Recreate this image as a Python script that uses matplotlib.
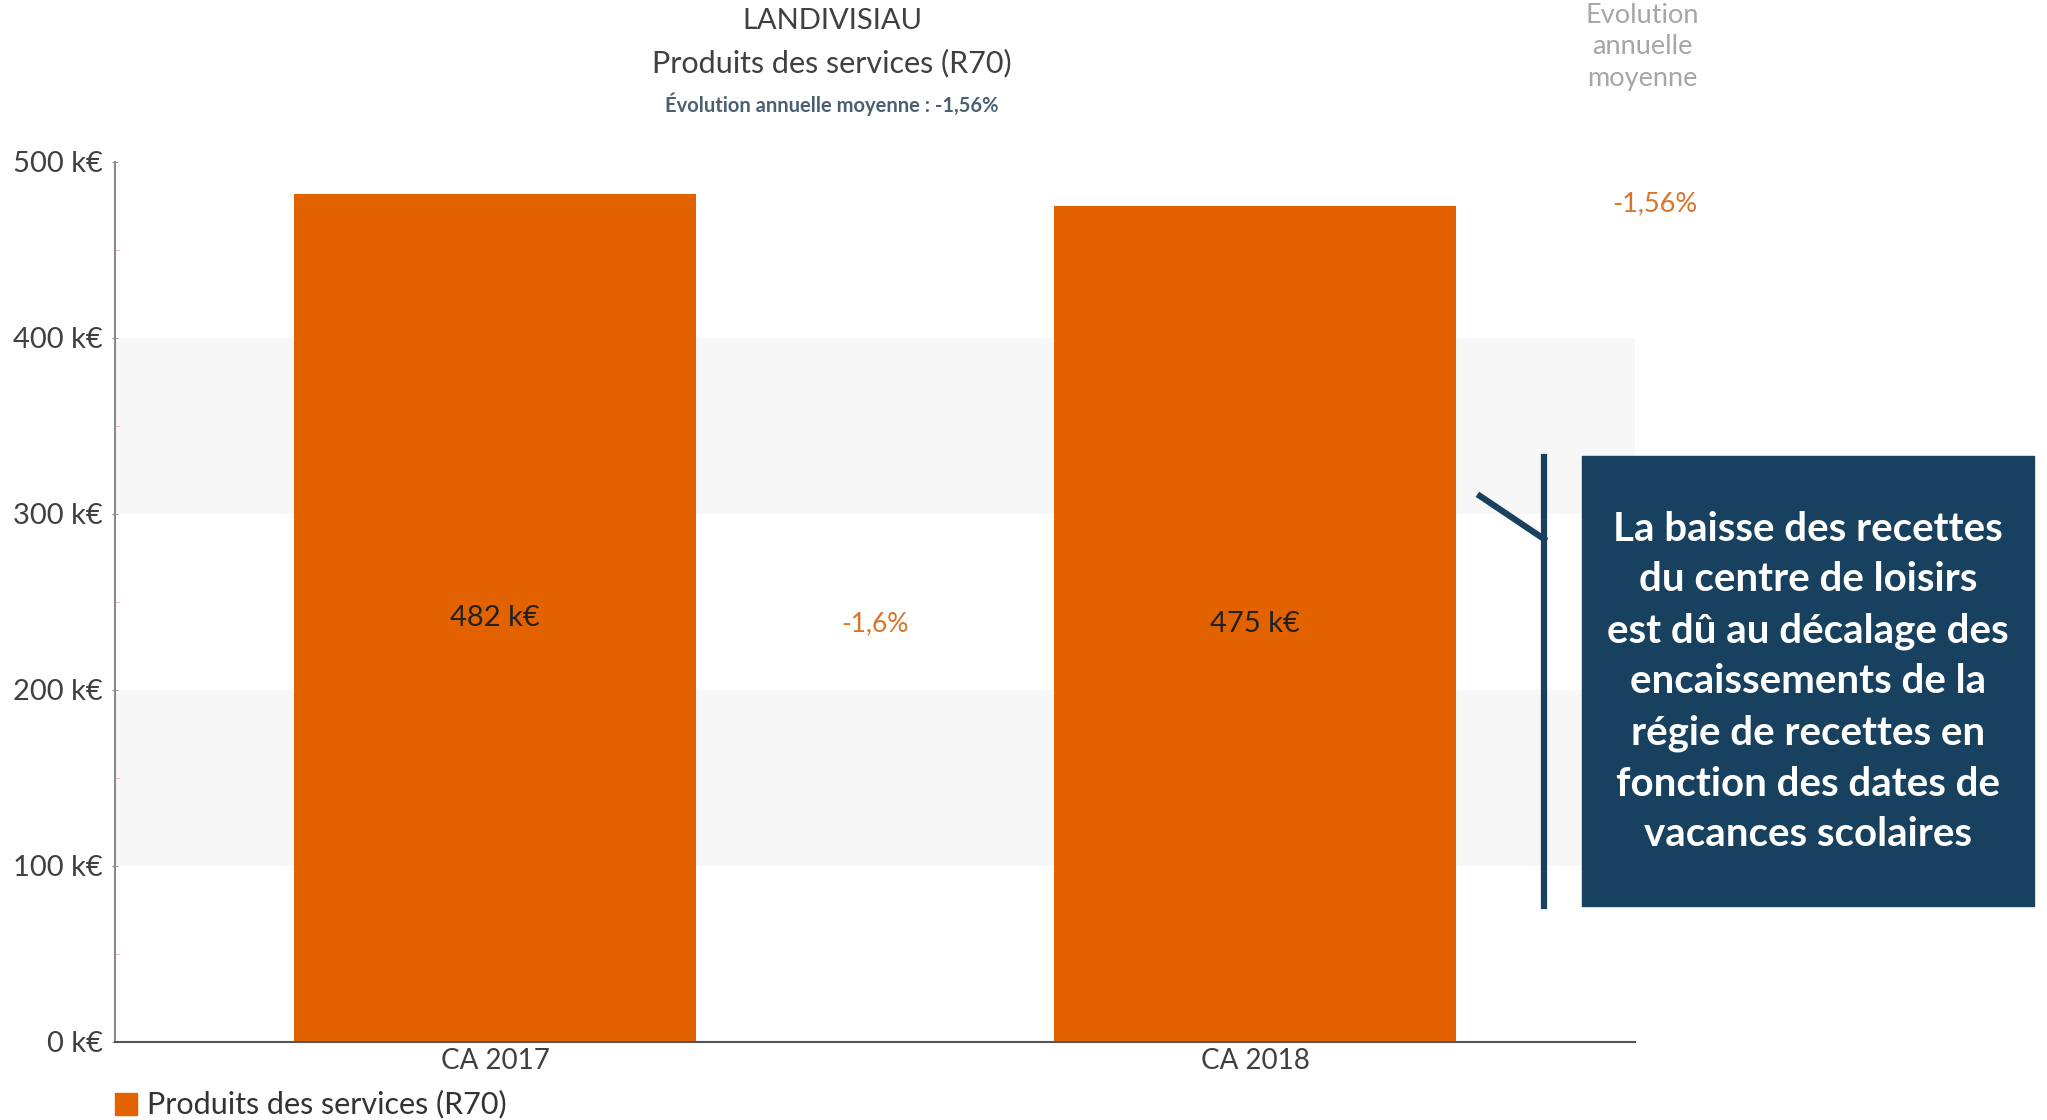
import matplotlib.pyplot as plt
from matplotlib.patches import Rectangle
from matplotlib.lines import Line2D

categories = ["CA 2017", "CA 2018"]
values = [482, 475]  # k€
bar_labels = ["482 k€", "475 k€"]
evolution_label = "-1,6%"
yticks = [0, 100, 200, 300, 400, 500]
ytick_labels = ["0 k€", "100 k€", "200 k€", "300 k€", "400 k€", "500 k€"]
bands = [(100, 200), (300, 400)]
note = ("La baisse des recettes\ndu centre de loisirs\nest dû au décalage des\n"
        "encaissements de la\nrégie de recettes en\nfonction des dates de\n"
        "vacances scolaires")

orange = "#E36200"
txt_orange = "#D9742A"
navy = "#17415F"
grey_txt = "#404040"

plt.rcParams['font.family'] = ['Lato', 'DejaVu Sans']

fig = plt.figure(figsize=(20.47, 11.2), dpi=100)
W, H = 2047, 1120
# axes box in pixels: left 115, right 1635, top 162 (=500), bottom 1042 (=0)
ax = fig.add_axes([115 / W, 1 - 1042 / H, (1635 - 115) / W, (1042 - 162) / H])

x = list(range(len(categories)))
for lo, hi in bands:
    ax.axhspan(lo, hi, color="#F7F7F7", zorder=0, lw=0)
ax.bar(x, values, width=0.53, color=orange, zorder=2)

for xi, v, lab in zip(x, values, bar_labels):
    ax.text(xi, v / 2, lab, ha="center", va="center", fontsize=21, color="#222222", zorder=3)
ax.text(0.5, values[1] / 2, evolution_label, ha="center", va="center",
        fontsize=19, color=txt_orange)

ax.set_xlim(-0.5, 1.5)
ax.set_ylim(0, 500)
ax.set_yticks(yticks)
ax.set_yticklabels(ytick_labels, fontsize=21, color=grey_txt)
ax.set_yticks(range(50, 500, 100), minor=True)
ax.tick_params(axis="y", which="minor", length=3, color="#F0A0A0", direction="in")
ax.tick_params(axis="y", which="major", length=5, color="#999999", direction="inout", pad=6)
ax.set_xticks(x)
ax.set_xticklabels(categories, fontsize=20, color=grey_txt)
ax.tick_params(axis="x", length=0, pad=4)
for s in ["top", "right"]:
    ax.spines[s].set_visible(False)
ax.spines["left"].set_color("#8A8A8A")
ax.spines["left"].set_linewidth(1.5)
ax.spines["bottom"].set_color("#555555")
ax.spines["bottom"].set_linewidth(1.5)

# titles
fig.text(832 / W, 1 - 21 / H, "LANDIVISIAU", ha="center", va="center", fontsize=21, color=grey_txt)
fig.text(832 / W, 1 - 63 / H, "Produits des services (R70)", ha="center", va="center",
         fontsize=22, color=grey_txt)
fig.text(832 / W, 1 - 104 / H, "Évolution annuelle moyenne : -1,56%", ha="center", va="center",
         fontsize=14.5, color="#4A6072", fontweight="bold")

# side column
fig.text(1642 / W, 1 - 47 / H, "Evolution\nannuelle\nmoyenne", ha="center", va="center",
         fontsize=19.5, color="#A6A6A6", linespacing=1.34)
fig.text(1655 / W, 1 - 204 / H, "-1,56%", ha="center", va="center",
         fontsize=19.5, color=txt_orange)

# legend
fig.patches.append(Rectangle((115 / W, 1 - 1115 / H), 22 / W, 22 / H, transform=fig.transFigure,
                             color=orange, figure=fig))
fig.text(147 / W, 1 - 1104 / H, "Produits des services (R70)", ha="left", va="center",
         fontsize=22, color="#333333")

# callout
fig.patches.append(Rectangle((1582 / W, 1 - 906 / H), (2034 - 1582) / W, (906 - 456) / H,
                             transform=fig.transFigure, color=navy, figure=fig))
fig.lines.append(Line2D([1544 / W, 1544 / W], [1 - 457 / H, 1 - 906 / H], transform=fig.transFigure,
                        color=navy, lw=4.5))
fig.lines.append(Line2D([1480 / W, 1544 / W], [1 - 496 / H, 1 - 539 / H], transform=fig.transFigure,
                        color=navy, lw=4.5))
fig.text(1808 / W, 1 - 682 / H, note, ha="center", va="center", fontsize=29,
         color="white", fontweight="bold", linespacing=1.46)

fig.savefig("out.png", dpi=100, facecolor="white")
